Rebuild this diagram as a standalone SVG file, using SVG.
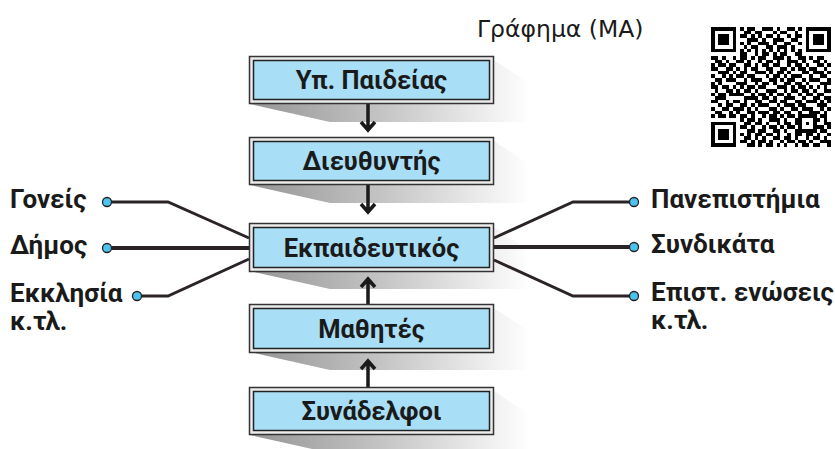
<svg xmlns="http://www.w3.org/2000/svg" width="835" height="449" viewBox="0 0 835 449">
<defs>
<linearGradient id="sh" gradientUnits="userSpaceOnUse" x1="250" y1="0" x2="530" y2="0">
<stop offset="0" stop-color="#959595"/>
<stop offset="0.45" stop-color="#c2c2c2"/>
<stop offset="1" stop-color="#ffffff"/>
</linearGradient>
</defs>
<style>
.lbl{font-family:Roboto,"Noto Sans","DejaVu Sans",sans-serif;font-weight:700;font-size:26px;fill:#1a1a1a}
.box-t{font-family:Roboto,"Noto Sans","DejaVu Sans",sans-serif;font-weight:700;font-size:25.5px;fill:#1a1a1a;text-anchor:middle}
.title{font-family:"DejaVu Sans",Roboto,sans-serif;font-weight:400;font-size:23.5px;fill:#1a1a1a}
.outer{fill:#ececec;stroke:#333;stroke-width:1.5}
.inner{fill:#a8def6;stroke:#222;stroke-width:1.5}
.shadow{fill:url(#sh)}
.con{fill:none;stroke:#2a2327;stroke-width:3;stroke-linejoin:miter}
.dot{fill:#4cc3ef;stroke:#222;stroke-width:1.3}
.arr{fill:none;stroke:#1a1a1a;stroke-width:3.5;stroke-linecap:butt;stroke-linejoin:miter}
</style>
<rect width="835" height="449" fill="#ffffff"/>

<text class="title" x="477" y="37">Γράφημα (ΜΑ)</text>

<g id="qr" transform="translate(711,27) scale(3.64)" fill="#000" shape-rendering="crispEdges">
<path fill-rule="evenodd" d="M0 0h7v7h-7zM1 1v5h5v-5zM2 2h3v3h-3zM26 0h7v7h-7zM27 1v5h5v-5zM28 2h3v3h-3zM0 26h7v7h-7zM1 27v5h5v-5zM2 28h3v3h-3zM24 24h5v5h-5zM25 25v3h3v-3zM26 26h1v1h-1z"/>
<path d="M8 0h1v1h-1zM10 0h2v1h-2zM14 0h3v1h-3zM18 0h1v1h-1zM21 0h2v1h-2zM24 0h1v1h-1z
M9 1h2v1h-2zM12 1h2v1h-2zM17 1h1v1h-1zM19 1h2v1h-2zM23 1h1v1h-1z
M8 2h2v1h-2zM11 2h1v1h-1zM13 2h1v1h-1zM15 2h2v1h-2zM18 2h1v1h-1zM21 2h1v1h-1zM23 2h2v1h-2z
M10 3h3v1h-3zM14 3h1v1h-1zM17 3h3v1h-3zM22 3h2v1h-2z
M8 4h1v1h-1zM10 4h1v1h-1zM13 4h3v1h-3zM17 4h1v1h-1zM20 4h2v1h-2zM24 4h1v1h-1z
M9 5h1v1h-1zM11 5h2v1h-2zM15 5h2v1h-2zM18 5h3v1h-3zM22 5h1v1h-1z
M8 6h1v1h-1zM10 6h1v1h-1zM12 6h1v1h-1zM14 6h1v1h-1zM16 6h1v1h-1zM18 6h1v1h-1zM20 6h1v1h-1zM22 6h1v1h-1zM24 6h1v1h-1z
M8 7h2v1h-2zM12 7h1v1h-1zM14 7h2v1h-2zM17 7h1v1h-1zM19 7h2v1h-2zM23 7h2v1h-2z
M0 8h2v1h-2zM3 8h1v1h-1zM6 8h1v1h-1zM8 8h2v1h-2zM11 8h1v1h-1zM13 8h2v1h-2zM17 8h3v1h-3zM21 8h1v1h-1zM24 8h2v1h-2zM27 8h1v1h-1zM29 8h2v1h-2z
M1 9h2v1h-2zM4 9h1v1h-1zM7 9h2v1h-2zM10 9h1v1h-1zM13 9h1v1h-1zM15 9h2v1h-2zM18 9h1v1h-1zM21 9h3v1h-3zM25 9h1v1h-1zM28 9h2v1h-2zM31 9h1v1h-1z
M0 10h1v1h-1zM2 10h2v1h-2zM5 10h2v1h-2zM9 10h2v1h-2zM12 10h1v1h-1zM14 10h2v1h-2zM17 10h2v1h-2zM21 10h1v1h-1zM23 10h2v1h-2zM26 10h1v1h-1zM29 10h2v1h-2zM32 10h1v1h-1z
M0 11h2v1h-2zM4 11h2v1h-2zM7 11h1v1h-1zM9 11h1v1h-1zM11 11h2v1h-2zM15 11h2v1h-2zM19 11h2v1h-2zM22 11h1v1h-1zM24 11h2v1h-2zM27 11h2v1h-2zM31 11h1v1h-1z
M2 12h3v1h-3zM6 12h1v1h-1zM8 12h2v1h-2zM12 12h3v1h-3zM16 12h1v1h-1zM18 12h2v1h-2zM21 12h1v1h-1zM25 12h2v1h-2zM28 12h3v1h-3zM32 12h1v1h-1z
M0 13h1v1h-1zM3 13h1v1h-1zM5 13h1v1h-1zM7 13h2v1h-2zM10 13h2v1h-2zM15 13h1v1h-1zM17 13h2v1h-2zM20 13h1v1h-1zM22 13h3v1h-3zM27 13h1v1h-1zM30 13h2v1h-2z
M1 14h2v1h-2zM4 14h3v1h-3zM9 14h1v1h-1zM11 14h3v1h-3zM16 14h2v1h-2zM19 14h1v1h-1zM21 14h2v1h-2zM25 14h1v1h-1zM27 14h3v1h-3zM32 14h1v1h-1z
M0 15h1v1h-1zM2 15h1v1h-1zM7 15h3v1h-3zM12 15h1v1h-1zM14 15h2v1h-2zM17 15h1v1h-1zM20 15h2v1h-2zM23 15h2v1h-2zM26 15h1v1h-1zM30 15h3v1h-3z
M0 16h2v1h-2zM3 16h2v1h-2zM6 16h1v1h-1zM8 16h1v1h-1zM10 16h2v1h-2zM13 16h2v1h-2zM18 16h3v1h-3zM22 16h1v1h-1zM24 16h2v1h-2zM27 16h1v1h-1zM29 16h1v1h-1zM31 16h1v1h-1z
M1 17h1v1h-1zM4 17h2v1h-2zM7 17h1v1h-1zM9 17h2v1h-2zM12 17h1v1h-1zM15 17h3v1h-3zM20 17h1v1h-1zM22 17h2v1h-2zM25 17h2v1h-2zM28 17h1v1h-1zM31 17h2v1h-2z
M0 18h1v1h-1zM2 18h2v1h-2zM5 18h4v1h-4zM11 18h1v1h-1zM13 18h2v1h-2zM16 18h1v1h-1zM18 18h2v1h-2zM21 18h1v1h-1zM24 18h1v1h-1zM26 18h2v1h-2zM29 18h2v1h-2z
M1 19h3v1h-3zM9 19h4v1h-4zM14 19h2v1h-2zM17 19h1v1h-1zM20 19h3v1h-3zM25 19h1v1h-1zM28 19h2v1h-2zM31 19h2v1h-2z
M0 20h2v1h-2zM4 20h1v1h-1zM6 20h2v1h-2zM9 20h1v1h-1zM12 20h2v1h-2zM16 20h2v1h-2zM19 20h2v1h-2zM23 20h2v1h-2zM26 20h3v1h-3zM30 20h1v1h-1zM32 20h1v1h-1z
M2 21h1v1h-1zM4 21h2v1h-2zM8 21h2v1h-2zM11 21h1v1h-1zM13 21h3v1h-3zM18 21h1v1h-1zM20 21h3v1h-3zM24 21h2v1h-2zM29 21h3v1h-3z
M0 22h1v1h-1zM3 22h2v1h-2zM6 22h3v1h-3zM10 22h1v1h-1zM12 22h1v1h-1zM16 22h2v1h-2zM19 22h1v1h-1zM22 22h2v1h-2zM25 22h3v1h-3zM30 22h1v1h-1zM32 22h1v1h-1z
M1 23h2v1h-2zM5 23h1v1h-1zM7 23h1v1h-1zM10 23h2v1h-2zM13 23h3v1h-3zM17 23h2v1h-2zM20 23h2v1h-2zM24 23h1v1h-1zM27 23h3v1h-3zM31 23h1v1h-1z
M0 24h1v1h-1zM2 24h2v1h-2zM5 24h2v1h-2zM8 24h2v1h-2zM11 24h1v1h-1zM14 24h1v1h-1zM16 24h2v1h-2zM19 24h1v1h-1zM21 24h2v1h-2zM30 24h2v1h-2z
M8 25h1v1h-1zM10 25h2v1h-2zM13 25h1v1h-1zM16 25h3v1h-3zM20 25h1v1h-1zM23 25h1v1h-1zM29 25h1v1h-1zM31 25h1v1h-1z
M9 26h2v1h-2zM12 26h2v1h-2zM15 26h1v1h-1zM18 26h1v1h-1zM20 26h2v1h-2zM23 26h1v1h-1zM31 26h2v1h-2z
M8 27h2v1h-2zM11 27h1v1h-1zM14 27h1v1h-1zM16 27h2v1h-2zM19 27h1v1h-1zM21 27h2v1h-2zM29 27h2v1h-2zM32 27h1v1h-1z
M10 28h2v1h-2zM13 28h2v1h-2zM17 28h2v1h-2zM20 28h1v1h-1zM23 28h1v1h-1zM30 28h2v1h-2z
M8 29h1v1h-1zM10 29h1v1h-1zM12 29h2v1h-2zM15 29h2v1h-2zM18 29h1v1h-1zM21 29h1v1h-1zM23 29h2v1h-2zM26 29h2v1h-2zM29 29h1v1h-1zM32 29h1v1h-1z
M9 30h2v1h-2zM12 30h1v1h-1zM14 30h1v1h-1zM17 30h2v1h-2zM20 30h2v1h-2zM23 30h1v1h-1zM26 30h1v1h-1zM28 30h2v1h-2zM31 30h1v1h-1z
M8 31h2v1h-2zM11 31h1v1h-1zM13 31h2v1h-2zM16 31h1v1h-1zM19 31h1v1h-1zM21 31h2v1h-2zM24 31h2v1h-2zM27 31h1v1h-1zM30 31h3v1h-3z
M10 32h2v1h-2zM13 32h1v1h-1zM15 32h2v1h-2zM18 32h1v1h-1zM20 32h1v1h-1zM23 32h1v1h-1zM25 32h2v1h-2zM28 32h2v1h-2zM32 32h1v1h-1z"/>
</g>

<g id="shadows">
<polygon class="shadow" points="494,60 527,82 527,122 330,122 250,104"/>
<polygon class="shadow" points="494,141 527,163 527,203 330,203 250,185"/>
<polygon class="shadow" points="494,227 527,249 527,289 330,289 250,271"/>
<polygon class="shadow" points="494,308 527,330 527,370 330,370 250,352"/>
<polygon class="shadow" points="494,391 527,413 527,453 330,453 250,435"/>
</g>

<g id="connectors">
<path class="con" d="M111.5 202H168L249 238"/>
<path class="con" d="M111.5 248H249" style="stroke-width:4"/>
<path class="con" d="M141.5 296H168L249 259"/>
<path class="con" d="M629.5 202H573L494 238"/>
<path class="con" d="M629.5 247H494" style="stroke-width:4"/>
<path class="con" d="M629.5 296H573L494 260"/>
<path class="arr" d="M368 104V130M361 122L368 130L375 122"/>
<path class="arr" d="M368 185V212M361 204L368 212L375 204"/>
<path class="arr" d="M368 304V279M361 287L368 279L375 287"/>
<path class="arr" d="M368 387V361M361 369L368 361L375 369"/>
</g>

<g id="node-yp">
<rect class="outer" x="249.5" y="56.5" width="244" height="47"/>
<rect class="inner" x="253.5" y="60.5" width="236" height="39"/>
<text class="box-t" x="371.5" y="89">Υπ. Παιδείας</text>
</g>
<g id="node-dieuthyntis">
<rect class="outer" x="249.5" y="137.5" width="244" height="47"/>
<rect class="inner" x="253.5" y="141.5" width="236" height="39"/>
<text class="box-t" x="371.5" y="170">Διευθυντής</text>
</g>
<g id="node-ekpaideutikos">
<rect class="outer" x="249.5" y="223.5" width="244" height="48"/>
<rect class="inner" x="253.5" y="227.5" width="236" height="40"/>
<text class="box-t" x="371.5" y="256.5">Εκπαιδευτικός</text>
</g>
<g id="node-mathites">
<rect class="outer" x="249.5" y="304.5" width="244" height="48"/>
<rect class="inner" x="253.5" y="308.5" width="236" height="40"/>
<text class="box-t" x="371.5" y="337.5">Μαθητές</text>
</g>
<g id="node-synadelfoi">
<rect class="outer" x="249.5" y="387.5" width="244" height="47"/>
<rect class="inner" x="253.5" y="391.5" width="236" height="39"/>
<text class="box-t" x="371.5" y="420">Συνάδελφοι</text>
</g>

<g id="node-goneis">
<circle class="dot" cx="107" cy="202" r="4.5"/>
<text class="lbl" x="10" y="208">Γονείς</text>
</g>
<g id="node-dimos">
<circle class="dot" cx="107" cy="248" r="4.5"/>
<text class="lbl" x="10" y="254">Δήμος</text>
</g>
<g id="node-ekklisia">
<circle class="dot" cx="137" cy="296" r="4.5"/>
<text class="lbl" x="10" y="302">Εκκλησία<tspan x="10" dy="28">κ.τλ.</tspan></text>
</g>
<g id="node-panepistimia">
<circle class="dot" cx="634" cy="202" r="4.5"/>
<text class="lbl" x="651" y="208">Πανεπιστήμια</text>
</g>
<g id="node-syndikata">
<circle class="dot" cx="634" cy="247" r="4.5"/>
<text class="lbl" x="651" y="253">Συνδικάτα</text>
</g>
<g id="node-enoseis">
<circle class="dot" cx="634" cy="296" r="4.5"/>
<text class="lbl" x="651" y="301">Επιστ. ενώσεις<tspan x="651" dy="28">κ.τλ.</tspan></text>
</g>
</svg>
